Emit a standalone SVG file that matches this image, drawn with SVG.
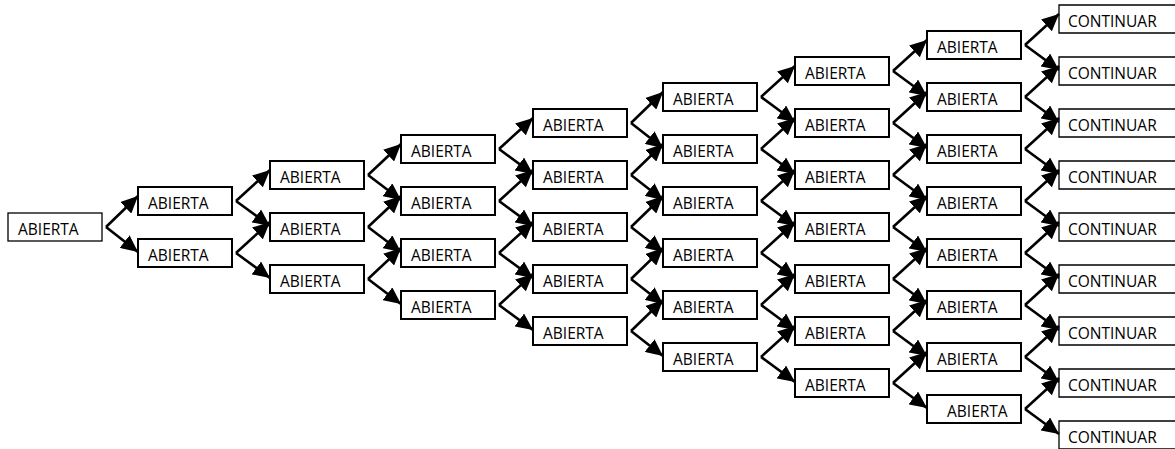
<svg xmlns="http://www.w3.org/2000/svg" width="1175" height="449" viewBox="0 0 1175 449">
<style>
.b{fill:#fff;stroke:#000;stroke-width:2}
.b0{fill:#fff;stroke:#000;stroke-width:1.3}
.c{fill:none;stroke:#000;stroke-width:1.3}
.t{font-family:"Open Sans","Liberation Sans",sans-serif;font-size:15.5px;fill:#000}
.e line{stroke:#000;stroke-width:2.6}
</style>
<defs>
<marker id="ah" markerUnits="userSpaceOnUse" markerWidth="18" markerHeight="16" refX="17" refY="8" orient="auto">
<path d="M0,0 L17,8 L0,16 Z" fill="#000"/>
</marker>
</defs>
<rect width="1175" height="449" fill="#fff"/>
<g id="edges" class="e">
<line x1="106" y1="227" x2="138" y2="196" marker-end="url(#ah)"/>
<line x1="106" y1="227" x2="138" y2="252" marker-end="url(#ah)"/>
<line x1="236" y1="201" x2="270" y2="170" marker-end="url(#ah)"/>
<line x1="236" y1="201" x2="270" y2="226" marker-end="url(#ah)"/>
<line x1="236" y1="253" x2="270" y2="222" marker-end="url(#ah)"/>
<line x1="236" y1="253" x2="270" y2="278" marker-end="url(#ah)"/>
<line x1="368" y1="175" x2="401" y2="144" marker-end="url(#ah)"/>
<line x1="368" y1="175" x2="401" y2="200" marker-end="url(#ah)"/>
<line x1="368" y1="227" x2="401" y2="196" marker-end="url(#ah)"/>
<line x1="368" y1="227" x2="401" y2="252" marker-end="url(#ah)"/>
<line x1="368" y1="279" x2="401" y2="248" marker-end="url(#ah)"/>
<line x1="368" y1="279" x2="401" y2="304" marker-end="url(#ah)"/>
<line x1="499" y1="149" x2="533" y2="118" marker-end="url(#ah)"/>
<line x1="499" y1="149" x2="533" y2="174" marker-end="url(#ah)"/>
<line x1="499" y1="201" x2="533" y2="170" marker-end="url(#ah)"/>
<line x1="499" y1="201" x2="533" y2="226" marker-end="url(#ah)"/>
<line x1="499" y1="253" x2="533" y2="222" marker-end="url(#ah)"/>
<line x1="499" y1="253" x2="533" y2="278" marker-end="url(#ah)"/>
<line x1="499" y1="305" x2="533" y2="274" marker-end="url(#ah)"/>
<line x1="499" y1="305" x2="533" y2="330" marker-end="url(#ah)"/>
<line x1="631" y1="123" x2="663" y2="92" marker-end="url(#ah)"/>
<line x1="631" y1="123" x2="663" y2="148" marker-end="url(#ah)"/>
<line x1="631" y1="175" x2="663" y2="144" marker-end="url(#ah)"/>
<line x1="631" y1="175" x2="663" y2="200" marker-end="url(#ah)"/>
<line x1="631" y1="227" x2="663" y2="196" marker-end="url(#ah)"/>
<line x1="631" y1="227" x2="663" y2="252" marker-end="url(#ah)"/>
<line x1="631" y1="279" x2="663" y2="248" marker-end="url(#ah)"/>
<line x1="631" y1="279" x2="663" y2="304" marker-end="url(#ah)"/>
<line x1="631" y1="331" x2="663" y2="300" marker-end="url(#ah)"/>
<line x1="631" y1="331" x2="663" y2="356" marker-end="url(#ah)"/>
<line x1="761" y1="97" x2="795" y2="66" marker-end="url(#ah)"/>
<line x1="761" y1="97" x2="795" y2="122" marker-end="url(#ah)"/>
<line x1="761" y1="149" x2="795" y2="118" marker-end="url(#ah)"/>
<line x1="761" y1="149" x2="795" y2="174" marker-end="url(#ah)"/>
<line x1="761" y1="201" x2="795" y2="170" marker-end="url(#ah)"/>
<line x1="761" y1="201" x2="795" y2="226" marker-end="url(#ah)"/>
<line x1="761" y1="253" x2="795" y2="222" marker-end="url(#ah)"/>
<line x1="761" y1="253" x2="795" y2="278" marker-end="url(#ah)"/>
<line x1="761" y1="305" x2="795" y2="274" marker-end="url(#ah)"/>
<line x1="761" y1="305" x2="795" y2="330" marker-end="url(#ah)"/>
<line x1="761" y1="357" x2="795" y2="326" marker-end="url(#ah)"/>
<line x1="761" y1="357" x2="795" y2="382" marker-end="url(#ah)"/>
<line x1="893" y1="71" x2="927" y2="40" marker-end="url(#ah)"/>
<line x1="893" y1="71" x2="927" y2="96" marker-end="url(#ah)"/>
<line x1="893" y1="123" x2="927" y2="92" marker-end="url(#ah)"/>
<line x1="893" y1="123" x2="927" y2="148" marker-end="url(#ah)"/>
<line x1="893" y1="175" x2="927" y2="144" marker-end="url(#ah)"/>
<line x1="893" y1="175" x2="927" y2="200" marker-end="url(#ah)"/>
<line x1="893" y1="227" x2="927" y2="196" marker-end="url(#ah)"/>
<line x1="893" y1="227" x2="927" y2="252" marker-end="url(#ah)"/>
<line x1="893" y1="279" x2="927" y2="248" marker-end="url(#ah)"/>
<line x1="893" y1="279" x2="927" y2="304" marker-end="url(#ah)"/>
<line x1="893" y1="331" x2="927" y2="300" marker-end="url(#ah)"/>
<line x1="893" y1="331" x2="927" y2="356" marker-end="url(#ah)"/>
<line x1="893" y1="383" x2="927" y2="352" marker-end="url(#ah)"/>
<line x1="893" y1="383" x2="927" y2="408" marker-end="url(#ah)"/>
<line x1="1025" y1="45" x2="1059" y2="14" marker-end="url(#ah)"/>
<line x1="1025" y1="45" x2="1059" y2="70" marker-end="url(#ah)"/>
<line x1="1025" y1="97" x2="1059" y2="66" marker-end="url(#ah)"/>
<line x1="1025" y1="97" x2="1059" y2="122" marker-end="url(#ah)"/>
<line x1="1025" y1="149" x2="1059" y2="118" marker-end="url(#ah)"/>
<line x1="1025" y1="149" x2="1059" y2="174" marker-end="url(#ah)"/>
<line x1="1025" y1="201" x2="1059" y2="170" marker-end="url(#ah)"/>
<line x1="1025" y1="201" x2="1059" y2="226" marker-end="url(#ah)"/>
<line x1="1025" y1="253" x2="1059" y2="222" marker-end="url(#ah)"/>
<line x1="1025" y1="253" x2="1059" y2="278" marker-end="url(#ah)"/>
<line x1="1025" y1="305" x2="1059" y2="274" marker-end="url(#ah)"/>
<line x1="1025" y1="305" x2="1059" y2="330" marker-end="url(#ah)"/>
<line x1="1025" y1="357" x2="1059" y2="326" marker-end="url(#ah)"/>
<line x1="1025" y1="357" x2="1059" y2="382" marker-end="url(#ah)"/>
<line x1="1025" y1="409" x2="1059" y2="378" marker-end="url(#ah)"/>
<line x1="1025" y1="409" x2="1059" y2="434" marker-end="url(#ah)"/>
</g>
<g id="n0_0"><rect class="b0" x="8" y="213" width="94" height="28"/><text class="t" x="18" y="235">ABIERTA</text></g>
<g id="n1_0"><rect class="b" x="138" y="187" width="94" height="28"/><text class="t" x="148" y="209">ABIERTA</text></g>
<g id="n1_1"><rect class="b" x="138" y="239" width="94" height="28"/><text class="t" x="148" y="261">ABIERTA</text></g>
<g id="n2_0"><rect class="b" x="270" y="161" width="94" height="28"/><text class="t" x="280" y="183">ABIERTA</text></g>
<g id="n2_1"><rect class="b" x="270" y="213" width="94" height="28"/><text class="t" x="280" y="235">ABIERTA</text></g>
<g id="n2_2"><rect class="b" x="270" y="265" width="94" height="28"/><text class="t" x="280" y="287">ABIERTA</text></g>
<g id="n3_0"><rect class="b" x="401" y="135" width="94" height="28"/><text class="t" x="411" y="157">ABIERTA</text></g>
<g id="n3_1"><rect class="b" x="401" y="187" width="94" height="28"/><text class="t" x="411" y="209">ABIERTA</text></g>
<g id="n3_2"><rect class="b" x="401" y="239" width="94" height="28"/><text class="t" x="411" y="261">ABIERTA</text></g>
<g id="n3_3"><rect class="b" x="401" y="291" width="94" height="28"/><text class="t" x="411" y="313">ABIERTA</text></g>
<g id="n4_0"><rect class="b" x="533" y="109" width="94" height="28"/><text class="t" x="543" y="131">ABIERTA</text></g>
<g id="n4_1"><rect class="b" x="533" y="161" width="94" height="28"/><text class="t" x="543" y="183">ABIERTA</text></g>
<g id="n4_2"><rect class="b" x="533" y="213" width="94" height="28"/><text class="t" x="543" y="235">ABIERTA</text></g>
<g id="n4_3"><rect class="b" x="533" y="265" width="94" height="28"/><text class="t" x="543" y="287">ABIERTA</text></g>
<g id="n4_4"><rect class="b" x="533" y="317" width="94" height="28"/><text class="t" x="543" y="339">ABIERTA</text></g>
<g id="n5_0"><rect class="b" x="663" y="83" width="94" height="28"/><text class="t" x="673" y="105">ABIERTA</text></g>
<g id="n5_1"><rect class="b" x="663" y="135" width="94" height="28"/><text class="t" x="673" y="157">ABIERTA</text></g>
<g id="n5_2"><rect class="b" x="663" y="187" width="94" height="28"/><text class="t" x="673" y="209">ABIERTA</text></g>
<g id="n5_3"><rect class="b" x="663" y="239" width="94" height="28"/><text class="t" x="673" y="261">ABIERTA</text></g>
<g id="n5_4"><rect class="b" x="663" y="291" width="94" height="28"/><text class="t" x="673" y="313">ABIERTA</text></g>
<g id="n5_5"><rect class="b" x="663" y="343" width="94" height="28"/><text class="t" x="673" y="365">ABIERTA</text></g>
<g id="n6_0"><rect class="b" x="795" y="57" width="94" height="28"/><text class="t" x="805" y="79">ABIERTA</text></g>
<g id="n6_1"><rect class="b" x="795" y="109" width="94" height="28"/><text class="t" x="805" y="131">ABIERTA</text></g>
<g id="n6_2"><rect class="b" x="795" y="161" width="94" height="28"/><text class="t" x="805" y="183">ABIERTA</text></g>
<g id="n6_3"><rect class="b" x="795" y="213" width="94" height="28"/><text class="t" x="805" y="235">ABIERTA</text></g>
<g id="n6_4"><rect class="b" x="795" y="265" width="94" height="28"/><text class="t" x="805" y="287">ABIERTA</text></g>
<g id="n6_5"><rect class="b" x="795" y="317" width="94" height="28"/><text class="t" x="805" y="339">ABIERTA</text></g>
<g id="n6_6"><rect class="b" x="795" y="369" width="94" height="28"/><text class="t" x="805" y="391">ABIERTA</text></g>
<g id="n7_0"><rect class="b" x="927" y="31" width="94" height="28"/><text class="t" x="937" y="53">ABIERTA</text></g>
<g id="n7_1"><rect class="b" x="927" y="83" width="94" height="28"/><text class="t" x="937" y="105">ABIERTA</text></g>
<g id="n7_2"><rect class="b" x="927" y="135" width="94" height="28"/><text class="t" x="937" y="157">ABIERTA</text></g>
<g id="n7_3"><rect class="b" x="927" y="187" width="94" height="28"/><text class="t" x="937" y="209">ABIERTA</text></g>
<g id="n7_4"><rect class="b" x="927" y="239" width="94" height="28"/><text class="t" x="937" y="261">ABIERTA</text></g>
<g id="n7_5"><rect class="b" x="927" y="291" width="94" height="28"/><text class="t" x="937" y="313">ABIERTA</text></g>
<g id="n7_6"><rect class="b" x="927" y="343" width="94" height="28"/><text class="t" x="937" y="365">ABIERTA</text></g>
<g id="n7_7"><rect class="b" x="927" y="395" width="94" height="28"/><text class="t" x="947" y="417">ABIERTA</text></g>
<g id="n8_0"><path class="c" d="M1180,5 H1059 V33 H1180"/><text class="t" x="1068" y="27">CONTINUAR</text></g>
<g id="n8_1"><path class="c" d="M1180,57 H1059 V85 H1180"/><text class="t" x="1068" y="79">CONTINUAR</text></g>
<g id="n8_2"><path class="c" d="M1180,109 H1059 V137 H1180"/><text class="t" x="1068" y="131">CONTINUAR</text></g>
<g id="n8_3"><path class="c" d="M1180,161 H1059 V189 H1180"/><text class="t" x="1068" y="183">CONTINUAR</text></g>
<g id="n8_4"><path class="c" d="M1180,213 H1059 V241 H1180"/><text class="t" x="1068" y="235">CONTINUAR</text></g>
<g id="n8_5"><path class="c" d="M1180,265 H1059 V293 H1180"/><text class="t" x="1068" y="287">CONTINUAR</text></g>
<g id="n8_6"><path class="c" d="M1180,317 H1059 V345 H1180"/><text class="t" x="1068" y="339">CONTINUAR</text></g>
<g id="n8_7"><path class="c" d="M1180,369 H1059 V397 H1180"/><text class="t" x="1068" y="391">CONTINUAR</text></g>
<g id="n8_8"><path class="c" d="M1180,421 H1059 V449 H1180"/><text class="t" x="1068" y="443">CONTINUAR</text></g>
</svg>
